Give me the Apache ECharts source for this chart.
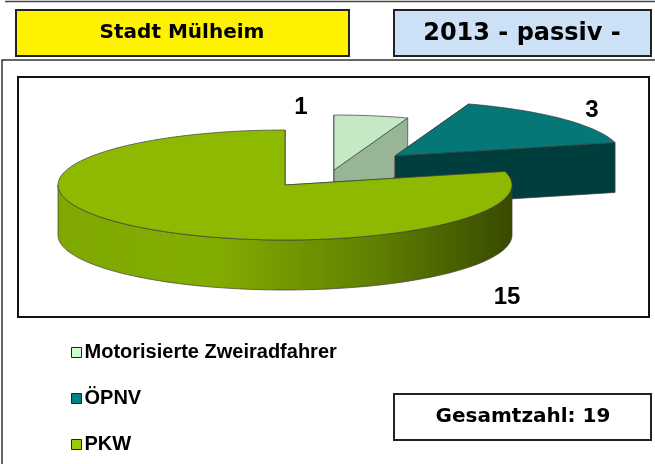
<!DOCTYPE html>
<html>
<head>
<meta charset="utf-8">
<script src="https://cdn.jsdelivr.net/npm/echarts@6/dist/echarts.min.js"></script>
<style>
  html, body { margin: 0; padding: 0; background: #fff; }
  #chart { width: 655px; height: 464px; }
</style>
</head>
<body>
<div id="chart"></div>
<script>
// chart data
const categories = ['Motorisierte Zweiradfahrer', 'ÖPNV', 'PKW']
const values = [1, 3, 15]
const cityName = 'Stadt Mülheim'
const yearLabel = '2013 - passiv -'
const totalLabel = 'Gesamtzahl: '

// look of the 3d pie (ellipse, thickness, explode offsets)
const pie = { cx: 285, cy: 185, rx: 227, ry: 55, depth: 50 }
const legendColors = ['#ccffcc', '#008080', '#99cc00']
const sliceStyles = [
  { top: '#c4e9c4', wall: '#98b597', side: '#a8c7a8', dx: 49, dy: -15, label: [-33, -63] },
  { top: '#057777', wall: '#003e3e', side: '#004848', dx: 110, dy: -29, label: [197, -46] },
  {
    top: '#8dba00',
    wall: '#5d7c00',
    side: {
      type: 'linear', x: 0, y: 0, x2: 1, y2: 0,
      colorStops: [
        { offset: 0, color: '#7fa900' },
        { offset: 0.35, color: '#82ad00' },
        { offset: 0.7, color: '#5f7f00' },
        { offset: 1, color: '#384a00' }
      ]
    },
    dx: 0, dy: 0, label: [222, 112]
  }
]
const edgeColor = '#3c3c3c'

const total = values.reduce((a, b) => a + b, 0)

function point(theta, ox, oy, down) {
  const r = theta * Math.PI / 180
  return [ox + pie.rx * Math.sin(r), oy - pie.ry * Math.cos(r) + (down || 0)]
}

function arc(a0, a1, ox, oy, down) {
  const pts = []
  const steps = Math.max(2, Math.ceil((a1 - a0) / 2))
  for (let i = 0; i <= steps; i++) {
    pts.push(point(a0 + (a1 - a0) * i / steps, ox, oy, down))
  }
  return pts
}

function renderSlice(idx) {
  return function (params, api) {
    let before = 0
    for (let i = 0; i < idx; i++) before += values[i]
    const a0 = before / total * 360
    const a1 = (before + api.value(0)) / total * 360
    const s = sliceStyles[idx]
    const ox = pie.cx + s.dx
    const oy = pie.cy + s.dy
    const d = pie.depth
    const children = []

    // cut walls
    ;[a0, a1].forEach(a => {
      const p = point(a, ox, oy)
      children.push({
        type: 'polygon',
        shape: { points: [[ox, oy], p, [p[0], p[1] + d], [ox, oy + d]] },
        style: { fill: s.wall, stroke: edgeColor, lineWidth: 0.7 }
      })
    })

    // outer side, only the part facing the viewer
    const from = Math.max(a0, 90)
    const to = Math.min(a1, 270)
    if (to > from) {
      const topArc = arc(from, to, ox, oy)
      const bottomArc = arc(from, to, ox, oy, d).reverse()
      children.push({
        type: 'polygon',
        shape: { points: topArc.concat(bottomArc) },
        style: { fill: s.side, stroke: edgeColor, lineWidth: 0.7 }
      })
    }

    // top face
    children.push({
      type: 'polygon',
      shape: { points: [[ox, oy]].concat(arc(a0, a1, ox, oy)) },
      style: { fill: s.top, stroke: edgeColor, lineWidth: 0.7 }
    })

    // value label
    children.push({
      type: 'text',
      style: {
        text: String(api.value(0)),
        x: ox + s.label[0],
        y: oy + s.label[1],
        align: 'center',
        verticalAlign: 'middle',
        font: 'bold 24px "Liberation Sans", Arial, sans-serif',
        fill: '#000'
      }
    })

    return { type: 'group', children: children }
  }
}

const chart = echarts.init(document.getElementById('chart'))

chart.setOption({
  animation: false,
  legend: {
    orient: 'vertical',
    left: 66,
    top: 337,
    icon: 'rect',
    itemWidth: 10,
    itemHeight: 10,
    itemGap: 25,
    itemStyle: { borderColor: '#222', borderWidth: 1 },
    textStyle: {
      fontFamily: 'Liberation Sans',
      fontWeight: 'bold',
      fontSize: 20,
      lineHeight: 21,
      color: '#000',
      padding: [0, 0, 0, -2]
    },
    data: categories
  },
  graphic: [
    { type: 'line', shape: { x1: 5, y1: 1.5, x2: 655, y2: 1.5 }, style: { stroke: '#444', lineWidth: 1.5 } },
    { type: 'rect', shape: { x: 2, y: 60, width: 700, height: 500 }, style: { fill: 'none', stroke: '#333', lineWidth: 1.5 } },
    { type: 'rect', z: -1, shape: { x: 18, y: 77, width: 631, height: 240 }, style: { fill: '#fff', stroke: '#111', lineWidth: 2 } },
    { type: 'rect', shape: { x: 16, y: 10, width: 333, height: 46 }, style: { fill: '#fff200', stroke: '#222', lineWidth: 2 } },
    {
      type: 'text', x: 182, y: 33,
      style: { text: cityName, align: 'center', verticalAlign: 'middle', font: 'bold 20px "DejaVu Sans", sans-serif', fill: '#000' }
    },
    { type: 'rect', shape: { x: 394, y: 10, width: 257, height: 46 }, style: { fill: '#cde1f6', stroke: '#222', lineWidth: 2 } },
    {
      type: 'text', x: 522, y: 34,
      style: { text: yearLabel, align: 'center', verticalAlign: 'middle', font: 'bold 24px "DejaVu Sans", sans-serif', fill: '#000' }
    },
    { type: 'rect', shape: { x: 394, y: 394, width: 257, height: 46 }, style: { fill: '#fff', stroke: '#222', lineWidth: 2 } },
    {
      type: 'text', x: 523, y: 417,
      style: { text: totalLabel + total, align: 'center', verticalAlign: 'middle', font: 'bold 20px "DejaVu Sans", sans-serif', fill: '#000' }
    }
  ],
  series: categories.map((name, i) => ({
    name: name,
    type: 'custom',
    coordinateSystem: 'none',
    itemStyle: { color: legendColors[i] },
    data: [values[i]],
    renderItem: renderSlice(i)
  }))
})
</script>
</body>
</html>
